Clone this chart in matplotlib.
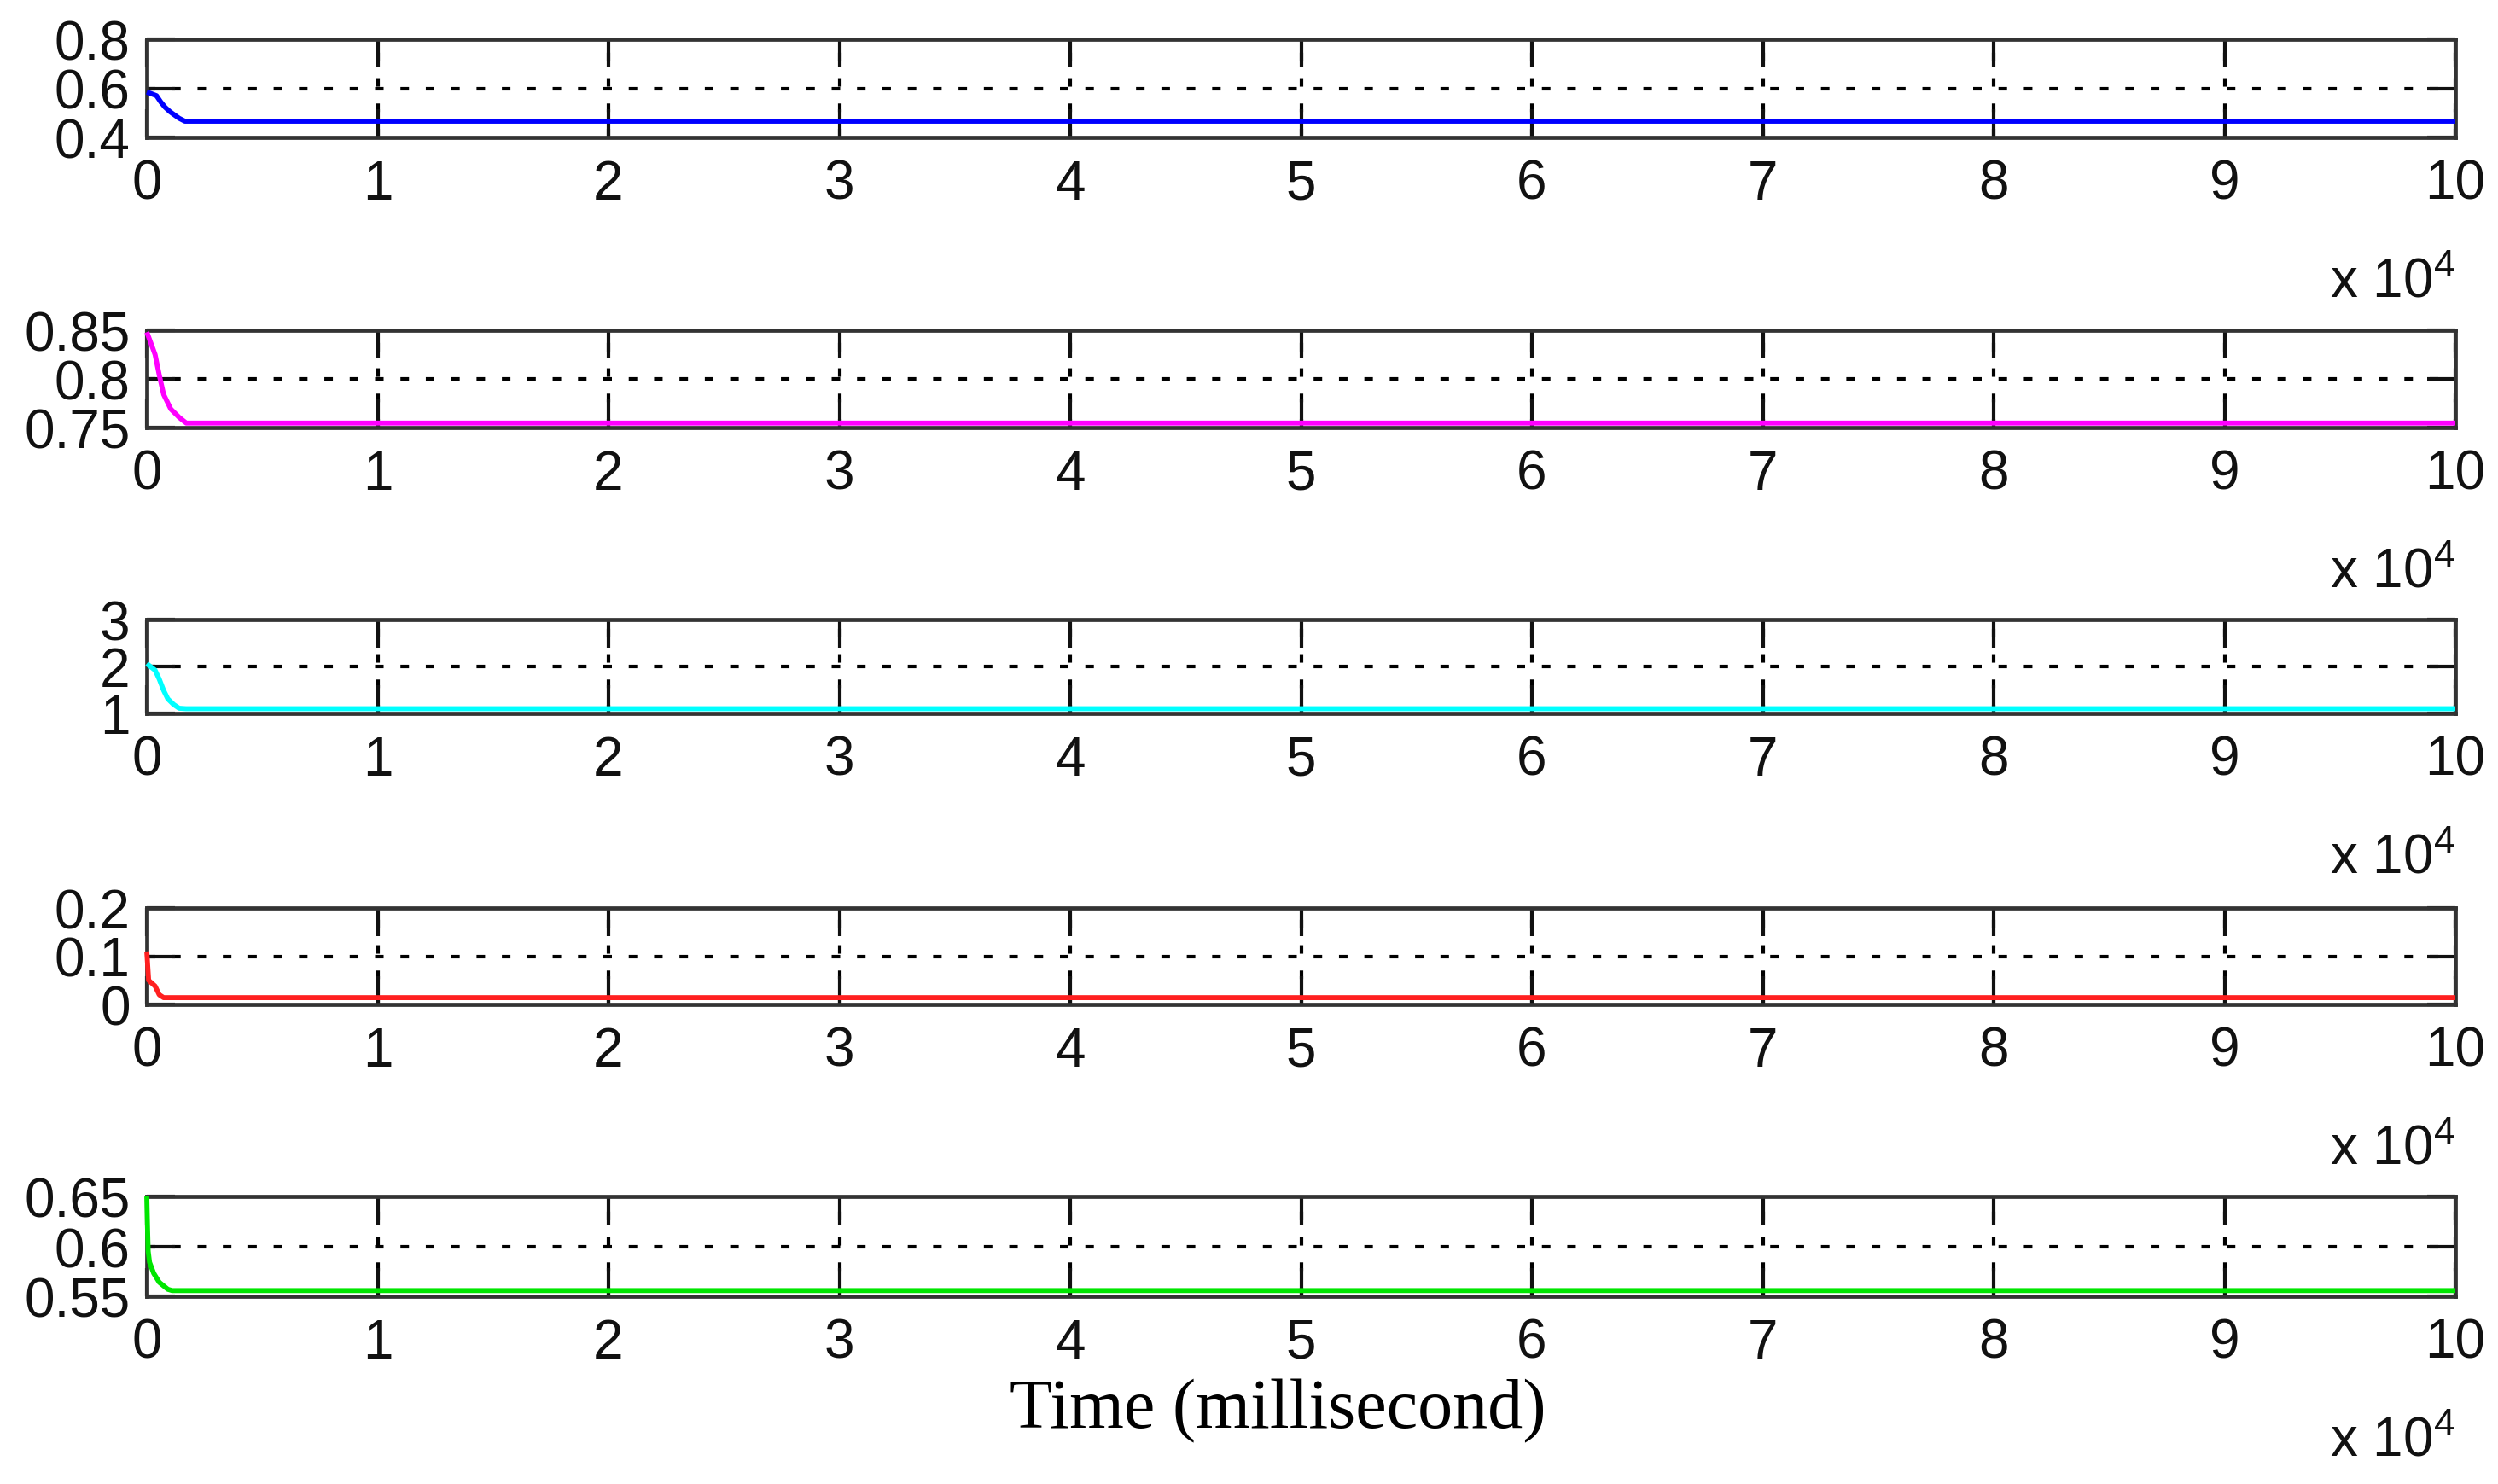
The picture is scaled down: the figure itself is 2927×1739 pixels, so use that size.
import matplotlib.pyplot as plt

plt.rcParams['font.family'] = ['Liberation Sans', 'DejaVu Sans']
plt.rcParams['mathtext.default'] = 'regular'
plt.rcParams['lines.scale_dashes'] = False

# Time in milliseconds and the value of each signal
t_blue = [0, 200, 420, 600, 790, 1000, 1160, 1400, 1650, 100000]
blue = [0.585, 0.578, 0.570, 0.545, 0.523, 0.505, 0.494, 0.478, 0.466, 0.466]

t_magenta = [0, 50, 360, 540, 730, 1040, 1400, 1710, 100000]
magenta = [0.848, 0.845, 0.825, 0.804, 0.784, 0.769, 0.7605, 0.7546, 0.7546]

t_cyan = [0, 360, 540, 730, 910, 1160, 1400, 1700, 100000]
cyan = [2.06, 1.92, 1.73, 1.49, 1.31, 1.19, 1.11, 1.10, 1.10]

t_red = [0, 40, 80, 360, 540, 730, 1000, 100000]
red = [0.11, 0.08, 0.05, 0.038, 0.02, 0.014, 0.014, 0.014]

t_green = [0, 30, 60, 120, 300, 540, 910, 1100, 100000]
green = [0.65, 0.62, 0.595, 0.584, 0.573, 0.564, 0.557, 0.5557, 0.5557]

# dotted set-point line in each panel
setpoints = [0.6, 0.8, 2, 0.1, 0.6]

series = [(t_blue, blue, '#0000ff'), (t_magenta, magenta, '#ff00ff'),
          (t_cyan, cyan, '#00ffff'), (t_red, red, '#ff2020'),
          (t_green, green, '#00e600')]

ylims = [(0.4, 0.8), (0.75, 0.85), (1, 3), (0, 0.2), (0.55, 0.65)]
yticks = [[0.4, 0.6, 0.8], [0.75, 0.8, 0.85], [1, 2, 3], [0, 0.1, 0.2], [0.55, 0.6, 0.65]]
ytick_labels = [['0.4', '0.6', '0.8'], ['0.75', '0.8', '0.85'], ['1', '2', '3'],
                ['0', '0.1', '0.2'], ['0.55', '0.6', '0.65']]
xticks = [0, 10000, 20000, 30000, 40000, 50000, 60000, 70000, 80000, 90000, 100000]
xtick_labels = ['0', '1', '2', '3', '4', '5', '6', '7', '8', '9', '10']

W, H = 2927, 1740
fig = plt.figure(figsize=(W / 200, H / 200), dpi=200)

# panel top / bottom in pixels
tops = [47, 388, 727, 1065, 1403]
bottoms = [162, 502, 837, 1178, 1520]
left, right = 172, 2877

for i in range(5):
    ax = fig.add_axes([left / W, 1 - bottoms[i] / H, (right - left) / W,
                       (bottoms[i] - tops[i]) / H])
    t, y, c = series[i]
    ax.plot(t, y, color=c, linewidth=2.1, zorder=3, clip_on=False,
            solid_capstyle='butt')
    ax.set_xlim(0, 100000)
    ax.set_ylim(*ylims[i])
    ax.set_xticks(xticks)
    ax.set_xticklabels(xtick_labels)
    ax.set_yticks(yticks[i])
    ax.set_yticklabels(ytick_labels[i])
    ax.grid(True, axis='x', color='k', linestyle=(0, (3.6, 7.1)), linewidth=1.5)
    ax.axhline(setpoints[i], color='k', linestyle=(0, (3.6, 7.1)), linewidth=1.5, zorder=1)
    ax.tick_params(direction='in', length=12, width=1.5, top=True, right=True,
                   labelsize=23, colors='#111111')
    ax.tick_params(axis='x', pad=9)
    ax.tick_params(axis='y', pad=7)
    for s in ax.spines.values():
        s.set_linewidth(1.7)
        s.set_color('#333333')
    ax.annotate('x $10^4$', xy=(1.0, 0), xycoords='axes fraction',
                xytext=(0, -61), textcoords='offset points',
                ha='right', va='center', fontsize=23, color='#111111')

fig.text(1497 / W, 1 - 1654 / H, 'Time (millisecond)', family='Liberation Serif',
         fontsize=29.5, ha='center', va='center')

plt.savefig('out.png', dpi=200)
